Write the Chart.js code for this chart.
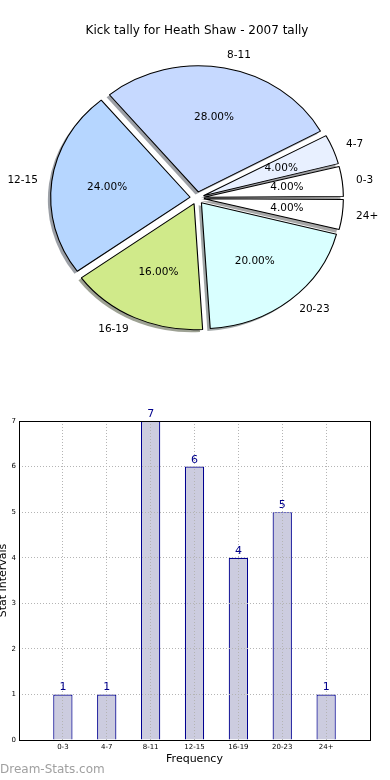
<!DOCTYPE html>
<html>
<head>
<meta charset="utf-8">
<script src="https://cdn.jsdelivr.net/npm/chart.js@4"></script>
<style>
  body { margin: 0; background: #fff; }
  #pieBox { position: absolute; left: 0; top: 0; width: 390px; height: 396px; }
  #barBox { position: absolute; left: 0; top: 396px; width: 390px; height: 384px; }
</style>
</head>
<body>
<div id="pieBox"><canvas id="pie" width="390" height="396"></canvas></div>
<div id="barBox"><canvas id="bar" width="390" height="384"></canvas></div>
<script>
var categories = ['0-3', '4-7', '8-11', '12-15', '16-19', '20-23', '24+'];
var kicks = [1, 1, 7, 6, 4, 5, 1];
var sliceColors = ['#ffffff', '#e8f0ff', '#c6d9ff', '#b6d6ff', '#d0ea8a', '#d9ffff', '#ffffff'];
var yMax = 7;

Chart.defaults.font.family = '"DejaVu Sans", sans-serif';
Chart.defaults.color = '#000';

// matplotlib goes counter-clockwise from 3 o'clock, chart.js clockwise -> reverse
var pieLabels = categories.slice().reverse();
var pieValues = kicks.slice().reverse();
var pieColors = sliceColors.slice().reverse();
var total = kicks.reduce(function (a, b) { return a + b; }, 0);

var SX = 1.107;     // axes were not square so the pie is a bit wide
var EXPLODE = 25;   // arc offset option, chart.js moves the slice by offset/4

function shadowOf(hex) {
  var n = parseInt(hex.slice(1), 16);
  var r = Math.round(((n >> 16) & 255) * 0.3), g = Math.round(((n >> 8) & 255) * 0.3), b = Math.round((n & 255) * 0.3);
  return 'rgba(' + r + ',' + g + ',' + b + ',0.5)';
}

var pieLook = {
  id: 'pieLook',
  beforeDatasetsDraw: function (chart) {
    var ctx = chart.ctx;
    var meta = chart.getDatasetMeta(0);
    var R = meta.controller.outerRadius;
    var d = EXPLODE / 4;
    var cx = meta.data[0].x, cy = meta.data[0].y;
    ctx.save();
    ctx.translate(cx, cy);
    ctx.scale(SX, 1);
    ctx.translate(-cx, -cy);
    // shadows go under all the wedges
    meta.data.forEach(function (a, i) {
      var m = (a.startAngle + a.endAngle) / 2;
      var x = a.x + Math.cos(m) * d - 0.02 * R;
      var y = a.y + Math.sin(m) * d + 0.02 * R;
      ctx.beginPath();
      ctx.moveTo(x, y);
      ctx.arc(x, y, R, a.startAngle, a.endAngle);
      ctx.closePath();
      ctx.fillStyle = shadowOf(pieColors[i]);
      ctx.fill();
      // chart.js grows narrow offset slices, keep them all the same radius
      var fix = 1 - Math.sin(Math.min(Math.PI, a.circumference));
      a.outerRadius = R - d * fix;
    });
  },
  afterDatasetsDraw: function (chart) {
    var ctx = chart.ctx;
    ctx.restore();
    var meta = chart.getDatasetMeta(0);
    var R = meta.controller.outerRadius;
    var d = EXPLODE / 4;
    ctx.save();
    ctx.font = '10.5px "DejaVu Sans"';
    ctx.fillStyle = '#000';
    ctx.textBaseline = 'middle';
    meta.data.forEach(function (a, i) {
      var m = (a.startAngle + a.endAngle) / 2;
      var c = Math.cos(m), s = Math.sin(m);
      var lr = 1.1 * R + d, pr = 0.6 * R + d;
      ctx.textAlign = c > 0 ? 'left' : 'right';
      ctx.fillText(pieLabels[i], a.x + SX * lr * c, a.y + lr * s);
      ctx.textAlign = 'center';
      ctx.fillText((pieValues[i] / total * 100).toFixed(2) + '%', a.x + SX * pr * c, a.y + pr * s);
    });
    ctx.restore();
  }
};

new Chart(document.getElementById('pie'), {
  type: 'pie',
  data: {
    labels: pieLabels,
    datasets: [{
      data: pieValues,
      backgroundColor: pieColors,
      borderColor: '#000',
      borderWidth: 1,
      offset: EXPLODE,
      clip: false
    }]
  },
  options: {
    responsive: false,
    animation: false,
    events: [],
    rotation: 90,
    radius: 126,
    layout: { padding: { left: 4, bottom: 47.4 } },
    plugins: {
      legend: { display: false },
      tooltip: { enabled: false },
      title: {
        display: true,
        text: 'Kick tally for Heath Shaw - 2007 tally',
        color: '#000',
        font: { size: 12, weight: 'normal' },
        padding: { top: 24, bottom: 9 }
      }
    }
  },
  plugins: [pieLook]
});

var barExtras = {
  id: 'barExtras',
  afterDraw: function (chart) {
    var ctx = chart.ctx, a = chart.chartArea;
    ctx.save();
    ctx.strokeStyle = '#000';
    ctx.lineWidth = 1;
    ctx.strokeRect(Math.round(a.left) + 0.5, Math.round(a.top) + 0.5, Math.round(a.right - a.left), Math.round(a.bottom - a.top));
    // value over each bar
    ctx.font = '11px "DejaVu Sans"';
    ctx.fillStyle = '#00008b';
    ctx.textAlign = 'center';
    ctx.textBaseline = 'alphabetic';
    chart.getDatasetMeta(0).data.forEach(function (bar, i) {
      ctx.fillText(String(kicks[i]), bar.x, bar.y - 4);
    });
    ctx.font = '12px "DejaVu Sans"';
    ctx.fillStyle = '#a0a0a0';
    ctx.textAlign = 'left';
    ctx.textBaseline = 'middle';
    ctx.fillText('Dream-Stats.com', 0, chart.height - 10);
    ctx.restore();
  }
};

new Chart(document.getElementById('bar'), {
  type: 'bar',
  data: {
    datasets: [{
      data: categories.map(function (c, i) { return { x: i, y: kicks[i] }; }),
      backgroundColor: '#ccccdf',
      borderColor: '#000090',
      borderWidth: 1.2,
      barPercentage: 0.44,
      categoryPercentage: 1
    }]
  },
  options: {
    responsive: false,
    animation: false,
    events: [],
    layout: { padding: { top: 25, right: 20, left: 0, bottom: 0 } },
    plugins: { legend: { display: false }, tooltip: { enabled: false } },
    scales: {
      x: {
        type: 'linear',
        offset: false,
        min: -1,
        max: categories.length,
        ticks: {
          stepSize: 1, padding: 3, maxRotation: 0, autoSkip: false,
          font: { size: 7 }, color: '#000',
          callback: function (v) { return categories[v] || ''; }
        },
        grid: { offset: false, color: '#b4b4b4', drawTicks: false, z: 1 },
        border: { display: false, dash: [1, 2] },
        title: { display: true, text: 'Frequency', color: '#000', font: { size: 11 }, padding: { top: 0, bottom: 14 } },
        afterFit: function (s) { s.height = 40; }
      },
      y: {
        min: 0,
        max: yMax,
        ticks: { stepSize: 1, padding: 3, font: { size: 7 }, color: '#000' },
        grid: { color: '#b4b4b4', drawTicks: false, z: 1 },
        border: { display: false, dash: [1, 2] },
        title: { display: true, text: 'Stat Intervals', color: '#000', font: { size: 11, lineHeight: 0.6 }, padding: 0 },
        afterFit: function (s) { s.width = 19; }
      }
    }
  },
  plugins: [barExtras]
});
</script>
</body>
</html>
